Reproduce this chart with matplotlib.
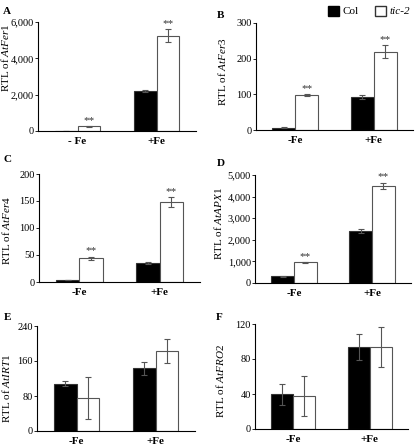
import matplotlib
matplotlib.use("Agg")
import matplotlib.pyplot as plt
import matplotlib.patches as mpatches
from matplotlib.ticker import FuncFormatter

plt.rcParams['font.family'] = ['Liberation Serif', 'DejaVu Serif']
plt.rcParams['mathtext.fontset'] = 'custom'
plt.rcParams['mathtext.rm'] = 'Liberation Serif'
plt.rcParams['mathtext.it'] = 'Liberation Serif:italic'

# panel data: [-Fe, +Fe]
genes = ["AtFer1", "AtFer3", "AtFer4", "AtAPX1", "AtIRT1", "AtFRO2"]
letters = ["A", "B", "C", "D", "E", "F"]
col_vals = [[10, 2200], [7, 92], [4, 35], [320, 2400], [108, 143], [40, 94]]
col_err = [[5, 50], [1, 6], [0.5, 2], [20, 100], [6, 14], [12, 15]]
tic_vals = [[250, 5250], [98, 220], [44, 148], [950, 4500], [75, 183], [38, 94]]
tic_err = [[20, 350], [3, 18], [3, 9], [30, 150], [48, 27], [23, 23]]
signif = [True, True, True, True, False, False]
ymax = [6000, 300, 200, 5000, 240, 120]
ystep = [2000, 100, 50, 1000, 80, 40]
xlabels = [["- Fe", "+Fe"]] + [["-Fe", "+Fe"]] * 5

W, H = 416, 445
fig = plt.figure(figsize=(W / 100, H / 100), dpi=100)

# axes boxes in pixels: left, right, top, bottom
boxes = [(38, 196, 22, 131), (256, 413, 23, 130),
         (39, 200, 174, 282), (255, 411, 175, 283),
         (37, 195, 326, 431), (255, 408, 324, 429)]
# y-label right edge / centre (px) and panel letter position (px)
ylab_pos = [(11, 58), (228, 72), (12, 230), (224, 223), (12, 388), (226, 381)]
letter_pos = [(3, 12), (217, 15), (3, 160), (217, 163), (4, 318), (216, 318)]

bw = 0.29
fs = 8
for i in range(6):
    l, r, t, b = boxes[i]
    ax = fig.add_axes([l / W, 1 - b / H, (r - l) / W, (b - t) / H])
    x = [0, 1]
    ax.bar([p - bw / 2 for p in x], col_vals[i], bw, yerr=col_err[i], color='black',
           edgecolor='#333333', linewidth=0.8,
           error_kw=dict(ecolor='#555555', elinewidth=0.8, capsize=2, capthick=0.8))
    ax.bar([p + bw / 2 for p in x], tic_vals[i], bw, yerr=tic_err[i], color='white',
           edgecolor='#555555', linewidth=0.8,
           error_kw=dict(ecolor='#555555', elinewidth=0.8, capsize=2, capthick=0.8))
    if signif[i]:
        for j in range(2):
            ax.text(x[j] + bw / 2, tic_vals[i][j] + tic_err[i][j] + ymax[i] * 0.01, "**",
                    ha='center', va='bottom', fontsize=fs, color='#333333')
    ax.set_xlim(-0.5, 1.5)
    ax.set_ylim(0, ymax[i])
    ax.set_yticks(range(0, ymax[i] + 1, ystep[i]))
    ax.yaxis.set_major_formatter(FuncFormatter(lambda v, p: f"{int(v):,}"))
    ax.set_xticks(x)
    ax.set_xticklabels(xlabels[i], fontweight='bold', fontsize=fs)
    ax.tick_params(axis='x', length=0, pad=4)
    ax.tick_params(axis='y', length=2, width=0.6, labelsize=7.5, pad=1)
    for s in ['top', 'right']:
        ax.spines[s].set_visible(False)
    ax.spines['left'].set_linewidth(0.8)
    ax.spines['bottom'].set_linewidth(0.8)
    ax.set_ylabel(r"RTL of $\mathit{" + genes[i] + "}$", fontsize=8)
    lx, ly = ylab_pos[i]
    ax.yaxis.set_label_coords((lx - l) / (r - l), (b - ly) / (b - t))
    px, py = letter_pos[i]
    fig.text(px / W, 1 - py / H, letters[i], fontweight='bold',
             fontsize=fs, ha='left', va='center')

handles = [mpatches.Patch(facecolor='black', edgecolor='black', label='Col'),
           mpatches.Patch(facecolor='white', edgecolor='#333333', label='tic-2')]
leg = fig.legend(handles=handles, loc='upper right', bbox_to_anchor=(1.0, 1.0),
                 ncol=2, frameon=False, fontsize=fs, handlelength=1.0,
                 handleheight=1.0, handletextpad=0.3, columnspacing=1.5,
                 borderaxespad=0.1)
leg.get_texts()[1].set_fontstyle('italic')

fig.savefig("out.png", dpi=100)
